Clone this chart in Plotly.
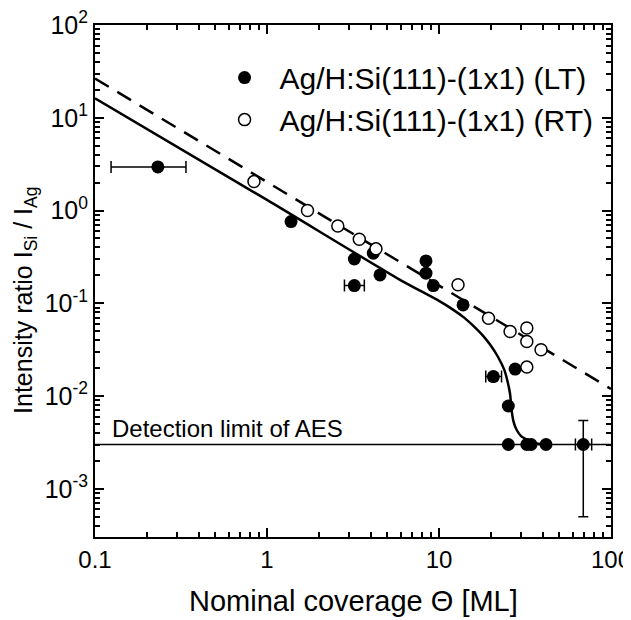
import plotly.graph_objects as go

# ---- data ----
lt_x = [1.38, 3.22, 4.15, 4.54, 8.4, 8.4, 9.27, 13.8, 27.7, 25.3, 25.3, 32.4, 34.3, 41.9]
lt_y = [0.76, 0.30, 0.347, 0.202, 0.286, 0.211, 0.155, 0.096, 0.0195, 0.0078, 0.003, 0.003, 0.003, 0.003]

# LT points with error bars
lte_x = [0.232, 3.22, 20.7, 69.0]
lte_y = [2.95, 0.155, 0.0162, 0.003]
lte_xplus = [0.106, 0.46, 2.4, 8.2]
lte_xminus = [0.108, 0.40, 2.0, 6.9]
lte_yplus = [0.0, 0.0, 0.0015, 0.00245]
lte_yminus = [0.0, 0.0, 0.0015, 0.0025]

rt_x = [0.84, 1.72, 2.58, 3.44, 4.3, 12.9, 19.4, 25.9, 32.4, 32.4, 39.2, 32.4]
rt_y = [2.05, 1.0, 0.68, 0.49, 0.386, 0.158, 0.069, 0.0496, 0.054, 0.0387, 0.0315, 0.0205]

# fit curves
lt_fit_x = [0.1, 1.0, 5.9, 10.0, 12.0, 14.0, 16.0, 18.0, 20.0, 22.0, 24.0, 25.0, 25.9, 26.4, 27.2, 28.3, 30.0, 32.4, 36.0, 42.0]
lt_fit_y = [16.2, 1.3, 0.18, 0.106, 0.086, 0.07, 0.056, 0.0448, 0.035, 0.0265, 0.019, 0.0145, 0.0105, 0.0071, 0.0052, 0.0043, 0.0037, 0.0034, 0.0031, 0.003]
rt_fit_x = [0.1, 100.0]
rt_fit_y = [26.5, 0.0119]

det_x = [0.1, 100.0]
det_y = [0.003, 0.003]

x_tickvals = [0.1, 1, 10, 100]
x_ticktext = ["0.1", "1", "10", "100"]
y_tickvals = [1e-3, 1e-2, 1e-1, 1, 10, 100]
y_ticktext = ["10<sup>-3</sup>", "10<sup>-2</sup>", "10<sup>-1</sup>", "10<sup>0</sup>", "10<sup>1</sup>", "10<sup>2</sup>"]

FONT = "Liberation Sans, Arial, sans-serif"

fig = go.Figure()

fig.add_trace(go.Scatter(x=det_x, y=det_y, mode="lines", line=dict(color="black", width=1.5),
                         showlegend=False, hoverinfo="skip"))
fig.add_trace(go.Scatter(x=rt_fit_x, y=rt_fit_y, mode="lines",
                         line=dict(color="black", width=2.5, dash="16px,10px"),
                         showlegend=False))
fig.add_trace(go.Scatter(x=lt_fit_x, y=lt_fit_y, mode="lines",
                         line=dict(color="black", width=2.5, shape="spline", smoothing=0.6),
                         showlegend=False))

fig.add_trace(go.Scatter(x=lte_x, y=lte_y, mode="markers",
                         marker=dict(color="black", size=13),
                         error_x=dict(type="data", symmetric=False, array=lte_xplus, arrayminus=lte_xminus,
                                      color="black", thickness=1.5, width=6),
                         error_y=dict(type="data", symmetric=False, array=lte_yplus, arrayminus=lte_yminus,
                                      color="black", thickness=1.5, width=5),
                         showlegend=False))
fig.add_trace(go.Scatter(x=lt_x, y=lt_y, mode="markers", name="Ag/H:Si(111)-(1x1) (LT)",
                         marker=dict(color="black", size=13)))
fig.add_trace(go.Scatter(x=rt_x, y=rt_y, mode="markers", name="Ag/H:Si(111)-(1x1) (RT)",
                         marker=dict(color="white", size=12, line=dict(color="black", width=1.5))))

fig.add_annotation(x=-0.915, y=-2.52, xref="x", yref="y", text="Detection limit of AES",
                   showarrow=False, xanchor="left", yanchor="bottom",
                   font=dict(family=FONT, size=24, color="black"))

# axis titles
fig.add_annotation(x=0.5, y=-0.125, xref="paper", yref="paper", text="Nominal coverage \u0398 [ML]",
                   showarrow=False, xanchor="center", yanchor="middle",
                   font=dict(family=FONT, size=29, color="black"))
fig.add_annotation(x=-0.1357, y=0.463, xref="paper", yref="paper",
                   text="Intensity ratio I<sub>Si</sub> / I<sub>Ag</sub>", textangle=-90,
                   showarrow=False, xanchor="center", yanchor="middle",
                   font=dict(family=FONT, size=25, color="black"))

axis_common = dict(type="log", showline=True, linecolor="black", linewidth=2, mirror="allticks",
                   ticks="inside", ticklen=9, tickwidth=1.5, tickcolor="black", showgrid=False,
                   zeroline=False,
                   ticklabeloverflow="allow", automargin=False,
                   minor=dict(ticks="inside", ticklen=5, tickwidth=1.5, tickcolor="black", showgrid=False, dtick="D1"))

fig.update_xaxes(range=[-1, 2], tickvals=x_tickvals, ticktext=x_ticktext,
                 tickfont=dict(family=FONT, size=24, color="black"), **axis_common)
fig.update_yaxes(range=[-3.52, 2], tickvals=y_tickvals, ticktext=y_ticktext,
                 tickfont=dict(family=FONT, size=25, color="black"), **axis_common)

# the page body adds an 8px offset, so the figure is sized/margined to compensate
fig.update_layout(width=623, height=612, margin=dict(l=87, r=20, t=17, b=83),
                  plot_bgcolor="white", paper_bgcolor="white",
                  font=dict(family=FONT, color="black"),
                  legend=dict(x=0.222, y=0.948, xanchor="left", yanchor="top", bgcolor="rgba(0,0,0,0)",
                              font=dict(family=FONT, size=30, color="black"), itemwidth=60,
                              tracegroupgap=0))

fig.write_html("out.html")
